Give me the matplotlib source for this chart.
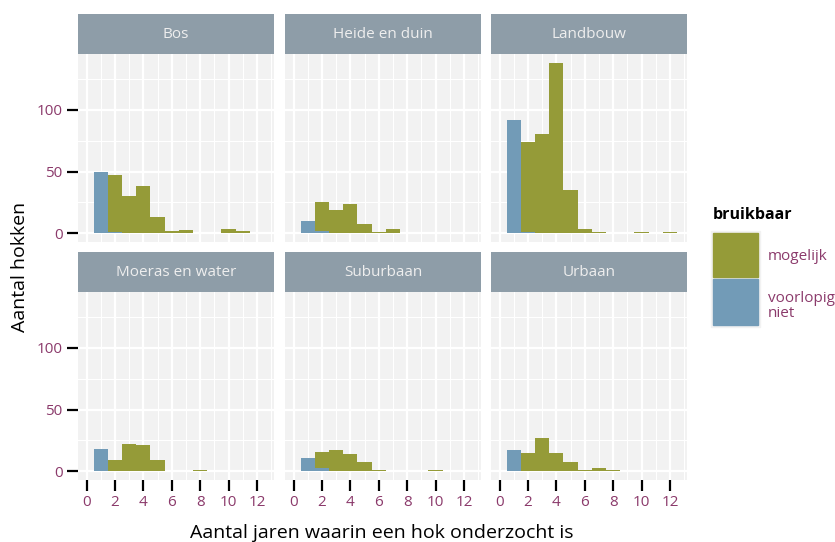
import matplotlib
matplotlib.use("Agg")
import matplotlib.pyplot as plt
from matplotlib.patches import Rectangle
import numpy as np

plt.rcParams['font.family'] = ['Open Sans', 'DejaVu Sans']

# data: counts per number of years (bins 1..12)
years = np.arange(1, 13)
facets = ['Bos', 'Heide en duin', 'Landbouw', 'Moeras en water', 'Suburbaan', 'Urbaan']
niet = {
    'Bos':             [50, 1, 0, 0, 0, 0, 0, 0, 0, 0, 0, 0],
    'Heide en duin':   [10, 2, 0, 0, 0, 0, 0, 0, 0, 0, 0, 0],
    'Landbouw':        [92, 1, 0, 0, 0, 0, 0, 0, 0, 0, 0, 0],
    'Moeras en water': [18, 0, 0, 0, 0, 0, 0, 0, 0, 0, 0, 0],
    'Suburbaan':       [11, 3, 0, 0, 0, 0, 0, 0, 0, 0, 0, 0],
    'Urbaan':          [17, 0, 0, 0, 0, 0, 0, 0, 0, 0, 0, 0],
}
mogelijk = {
    'Bos':             [0, 46, 30, 38, 13, 2, 3, 0, 0, 4, 2, 0],
    'Heide en duin':   [0, 23, 19, 24, 8, 1, 4, 0, 0, 0, 0, 0],
    'Landbouw':        [0, 73, 80, 138, 35, 4, 1, 0, 0, 1, 0, 1],
    'Moeras en water': [0, 9, 22, 21, 9, 0, 0, 1, 0, 0, 0, 0],
    'Suburbaan':       [0, 13, 17, 14, 8, 1, 0, 0, 0, 1, 0, 0],
    'Urbaan':          [0, 15, 27, 15, 8, 1, 3, 1, 0, 0, 0, 0],
}

green = '#959B38'
blue = '#729BB7'
strip_col = '#8E9DA8'
purple = '#8B3A6B'
W, H = 835, 542

def fx(px):
    return px / W

def fy(py):
    return 1 - py / H

fig = plt.figure(figsize=(W / 100, H / 100), dpi=100)

lefts = [78, 285, 491]
tops = [54, 292]
pw, ph = 196, 188

for i, name in enumerate(facets):
    r, c = divmod(i, 3)
    x0, t0 = lefts[c], tops[r]
    ax = fig.add_axes([fx(x0), fy(t0 + ph), pw / W, ph / H])
    ax.set_facecolor('#F2F2F2')
    ax.bar(years, niet[name], width=1.0, color=blue, linewidth=0, zorder=3)
    ax.bar(years, mogelijk[name], width=1.0, bottom=niet[name], color=green,
           linewidth=0, zorder=3)
    ax.set_xlim(-0.6, 13.2)
    ax.set_ylim(-6.9, 144.9)
    ax.set_xticks(range(0, 13, 2))
    ax.set_xticks(range(1, 14, 2), minor=True)
    ax.set_yticks([0, 50, 100])
    ax.set_yticks([25, 75, 125], minor=True)
    ax.grid(which='major', color='white', linewidth=1.6, zorder=1)
    ax.grid(which='minor', color='white', linewidth=0.8, zorder=1)
    ax.set_axisbelow(True)
    for s in ax.spines.values():
        s.set_visible(False)
    ax.tick_params(which='minor', length=0)
    ax.tick_params(which='major', length=8, width=1.6, color='black',
                   labelcolor=purple, labelsize=11, pad=3)
    if c != 0:
        ax.tick_params(axis='y', left=False, labelleft=False)
    if r != 1:
        ax.tick_params(axis='x', bottom=False, labelbottom=False)

    # facet strip
    sax = fig.add_axes([fx(x0), fy(t0), pw / W, 40 / H])
    sax.set_facecolor(strip_col)
    sax.set_xticks([])
    sax.set_yticks([])
    for s in sax.spines.values():
        s.set_visible(False)
    sax.text(0.5, 0.5, name, ha='center', va='center', color='#EEEEEE',
             fontsize=11, transform=sax.transAxes)

# axis titles
fig.text(fx(20), fy(267), 'Aantal hokken', rotation=90, ha='center',
         va='center', fontsize=14)
fig.text(fx(382), fy(524), 'Aantal jaren waarin een hok onderzocht is',
         ha='center', va='top', fontsize=14)

# legend
fig.text(fx(713), fy(215), 'bruikbaar', fontweight='bold', fontsize=11.5,
         ha='left', va='center')
fig.patches.append(Rectangle((fx(711), fy(327)), 49 / W, 96 / H,
                             transform=fig.transFigure, color='#F2F2F2'))
fig.patches.append(Rectangle((fx(713), fy(277)), 45 / W, 44 / H,
                             transform=fig.transFigure, color=green))
fig.patches.append(Rectangle((fx(713), fy(325)), 45 / W, 46 / H,
                             transform=fig.transFigure, color=blue))
fig.text(fx(768), fy(257), 'mogelijk', color=purple, fontsize=11,
         ha='left', va='center')
fig.text(fx(768), fy(306), 'voorlopig\nniet', color=purple, fontsize=11,
         ha='left', va='center', linespacing=1.0)

fig.savefig('out.png', dpi=100)
